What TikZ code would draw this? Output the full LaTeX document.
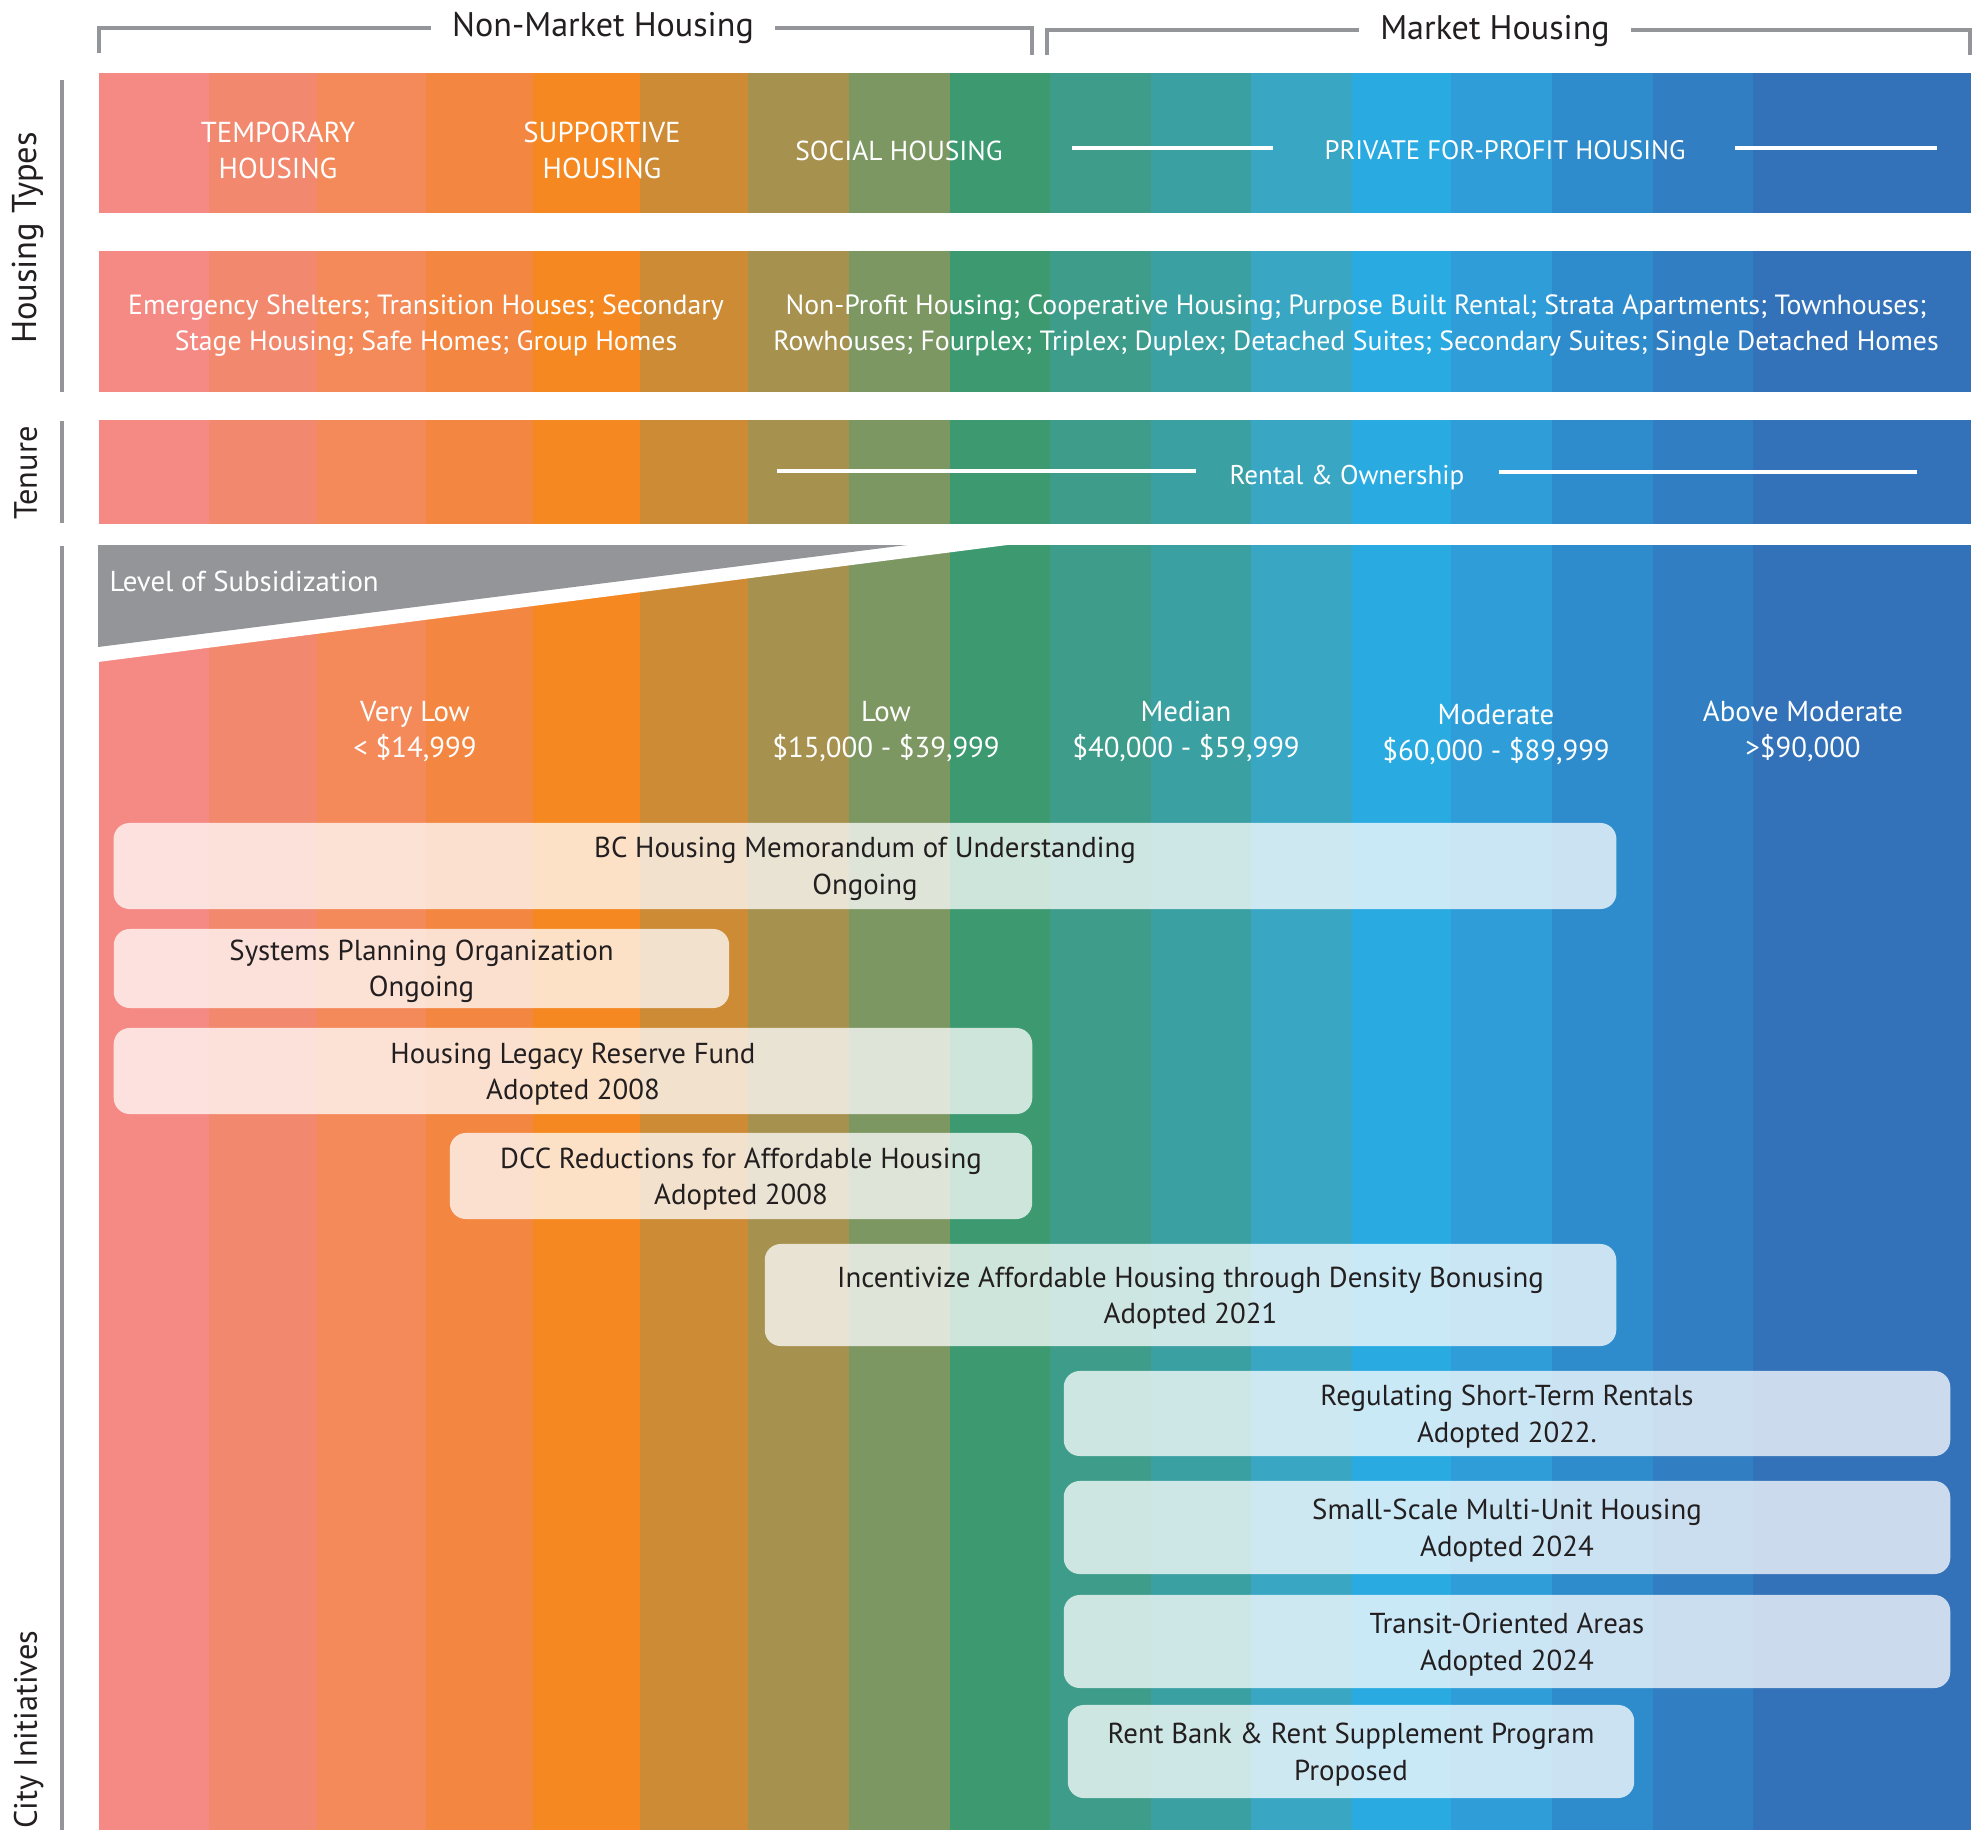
\documentclass[tikz,border=0pt]{standalone}
\usepackage{fontspec}
\setmainfont{PT Sans}
\usepackage{xcolor}
\definecolor{RULECOLOR}{HTML}{939598}
\definecolor{INKCOLOR}{HTML}{231F20}
\definecolor{BANDa}{HTML}{F48A83}
\definecolor{BANDb}{HTML}{F2896E}
\definecolor{BANDc}{HTML}{F48A5A}
\definecolor{BANDd}{HTML}{F38742}
\definecolor{BANDe}{HTML}{F58820}
\definecolor{BANDf}{HTML}{CE8B35}
\definecolor{BANDg}{HTML}{A6914E}
\definecolor{BANDh}{HTML}{7D9762}
\definecolor{BANDi}{HTML}{3C9970}
\definecolor{BANDj}{HTML}{3E9C8A}
\definecolor{BANDk}{HTML}{3AA0A2}
\definecolor{BANDl}{HTML}{39A7C4}
\definecolor{BANDm}{HTML}{29ABE2}
\definecolor{BANDn}{HTML}{2E9DD8}
\definecolor{BANDo}{HTML}{2E8CCC}
\definecolor{BANDp}{HTML}{317FC2}
\definecolor{BANDq}{HTML}{3372B9}
\usepackage{tikz}
\usetikzlibrary{positioning,calc}
\tikzset{
  main-style/.style = {x=0.01cm, y=-0.01cm},
  rule-style/.style = {draw=RULECOLOR, line width=0.95pt},
  axis-style/.style = {draw=RULECOLOR, line width=1.15pt},
  axis-label-style/.style = {
    rotate=90, anchor=base, text=INKCOLOR, inner sep=0pt,
    font=\fontsize{9.2}{11}\selectfont
  },
  header-style/.style = {
    fill=white, text=INKCOLOR, inner xsep=6pt, inner ysep=1pt,
    font=\fontsize{9.7}{11}\selectfont
  },
  type-style/.style = {
    text=white, align=center, inner sep=0pt, yshift=-0.7pt,
    font=\fontsize{8.2}{10.2}\selectfont
  },
  list-style/.style = {
    type-style, font=\fontsize{7.9}{10.1}\selectfont
  },
  band-line-style/.style = {draw=white, line width=1.15pt},
  subsidy-style/.style = {fill=RULECOLOR},
  initiative-style/.style = {
    rectangle, rounded corners=0.16cm, fill=white, fill opacity=0.75,
    inner sep=0pt
  },
  initiative-text-style/.style = {
    text=INKCOLOR, align=center, inner sep=0pt, yshift=-0.85pt,
    font=\fontsize{8.2}{10.4}\selectfont
  }
}
\def\drawBand top:#1 bottom:#2;{
  \foreach \xa/\xb/\shade in {99/209/BANDa, 209/317/BANDb, 317/426/BANDc,
      426/533/BANDd, 533/640/BANDe, 640/748/BANDf, 748/849/BANDg,
      849/950/BANDh, 950/1050/BANDi, 1050/1151/BANDj, 1151/1251/BANDk,
      1251/1352/BANDl, 1352/1451/BANDm, 1451/1552/BANDn, 1552/1653/BANDo,
      1653/1753/BANDp, 1753/1970/BANDq}
    \fill[\shade] (\xa,#1) rectangle ({\xb+1},#2);
}
\def\createInitiative name:#1 at:#2 width:#3 height:#4 text:#5;{
  \node[initiative-style, minimum width=#3, minimum height=#4] (#1) at (#2) {};
  \node[initiative-text-style] (#1-text) at (#1.center) {#5};
}

\begin{document}
\begin{tikzpicture}[main-style]
  \useasboundingbox (0,0) rectangle (1984,1830);
  \clip (0,0) rectangle (1984,1830);

  \draw[rule-style] (99,53) |- (1032,28) -- (1032,55);
  \draw[rule-style] (1047,55) |- (1970,30) -- (1970,55);
  \node[header-style] (nonmarket) at (603,28) {Non-Market Housing};
  \node[header-style] (market) at (1495,31) {Market Housing};

  \draw[axis-style] (62,80) -- (62,392);
  \draw[axis-style] (62,421) -- (62,523);
  \draw[axis-style] (62,546) -- (62,1830);
  \node[axis-label-style, font=\fontsize{9.8}{11}\selectfont] (typesaxis) at (37,238) {Housing Types};
  \node[axis-label-style] (tenureaxis) at (37,473) {Tenure};
  \node[axis-label-style, anchor=base east] (cityaxis) at (37,1630) {City Initiatives};

  \drawBand top:73 bottom:213;
  \drawBand top:251 bottom:392;
  \drawBand top:420 bottom:524;
  \drawBand top:545 bottom:1830;

  \fill[white] (98,544) -- (1015,544) -- (98,662) -- cycle;
  \fill[subsidy-style] (98,545) -- (907,545) -- (98,647) -- cycle;
  \node[type-style, anchor=west, yshift=0.7pt] (subsidy) at (109,581) {Level of Subsidization};

  \node[type-style] (temporary) at (278,148) {TEMPORARY\\HOUSING};
  \node[type-style] (supportive) at (602,148) {SUPPORTIVE\\HOUSING};
  \node[type-style, font=\fontsize{7.8}{10}\selectfont] (social) at (899,148) {SOCIAL HOUSING};
  \node[type-style, font=\fontsize{7.6}{10}\selectfont] (private) at (1505,148) {PRIVATE FOR-PROFIT HOUSING};
  \draw[band-line-style] (1072,148) -- (1273,148);
  \draw[band-line-style] (1735,148) -- (1937,148);

  \node[list-style] (nonmarketlist) at (426,323)
    {Emergency Shelters; Transition Houses; Secondary\\Stage Housing; Safe Homes; Group Homes};
  \node[list-style] (marketlist) at (1356,323)
    {Non-Profit Housing; Cooperative Housing; Purpose Built Rental; Strata Apartments; Townhouses;\\
     Rowhouses; Fourplex; Triplex; Duplex; Detached Suites; Secondary Suites; Single Detached Homes};

  \node[type-style, font=\fontsize{7.7}{10}\selectfont] (tenure) at (1347,475) {Rental \& Ownership};
  \draw[band-line-style] (777,471) -- (1196,471);
  \draw[band-line-style] (1499,472) -- (1917,472);

  \node[type-style] (verylow) at (415,729) {Very Low\\< \$14,999};
  \node[type-style] (low) at (886,729) {Low\\\$15,000 - \$39,999};
  \node[type-style] (median) at (1186,729) {Median\\\$40,000 - \$59,999};
  \node[type-style] (moderate) at (1496,732) {Moderate\\\$60,000 - \$89,999};
  \node[type-style] (abovemoderate) at (1803,729) {Above Moderate\\>\$90,000};

  \createInitiative name:bcmou at:{865,866} width:15.02cm height:0.86cm
    text:{BC Housing Memorandum of Understanding\\Ongoing};
  \createInitiative name:systems at:{421.5,968.5} width:6.15cm height:0.79cm
    text:{Systems Planning Organization\\Ongoing};
  \createInitiative name:legacy at:{573,1071} width:9.18cm height:0.86cm
    text:{Housing Legacy Reserve Fund\\Adopted 2008};
  \createInitiative name:dcc at:{741,1176} width:5.82cm height:0.86cm
    text:{DCC Reductions for Affordable Housing\\Adopted 2008};
  \createInitiative name:bonusing at:{1190.5,1295} width:8.51cm height:1.02cm
    text:{Incentivize Affordable Housing through Density Bonusing\\Adopted 2021};
  \createInitiative name:shortterm at:{1507,1413.5} width:8.86cm height:0.85cm
    text:{Regulating Short-Term Rentals\\Adopted 2022.};
  \createInitiative name:multiunit at:{1507,1527.5} width:8.86cm height:0.93cm
    text:{Small-Scale Multi-Unit Housing\\Adopted 2024};
  \createInitiative name:transit at:{1507,1641.5} width:8.86cm height:0.93cm
    text:{Transit-Oriented Areas\\Adopted 2024};
  \createInitiative name:rentbank at:{1351,1751.5} width:5.66cm height:0.93cm
    text:{Rent Bank \& Rent Supplement Program\\Proposed};
\end{tikzpicture}
\end{document}
